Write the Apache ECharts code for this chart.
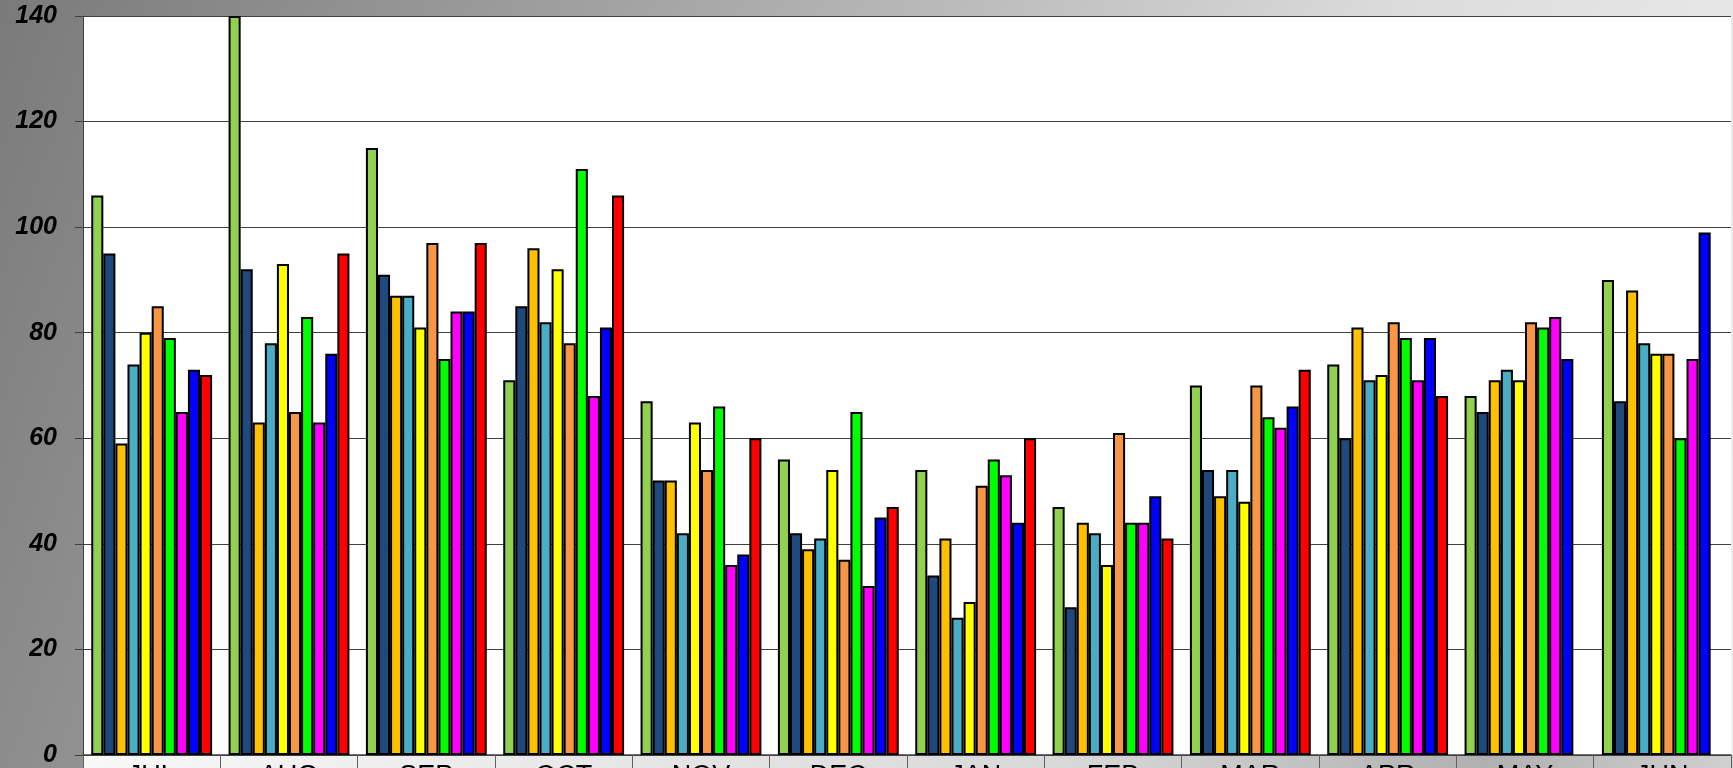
<!DOCTYPE html>
<html>
<head>
<meta charset="utf-8">
<script src="https://cdn.jsdelivr.net/npm/echarts@6/dist/echarts.min.js"></script>
<style>
  html, body { margin: 0; padding: 0; }
  #chart { width: 1733px; height: 768px; background: linear-gradient(110deg, #7a7a7a 0%, #a8a8a8 35%, #dcdcdc 70%, #f0f0f0 100%); }
</style>
</head>
<body>
<div id="chart"></div>
<script>
const months = ['JUL', 'AUG', 'SEP', 'OCT', 'NOV', 'DEC', 'JAN', 'FEB', 'MAR', 'APR', 'MAY', 'JUN'];
const yTicks = [0, 20, 40, 60, 80, 100, 120, 140];

// one array per series (colour), values by month
const s1 = [106, 140, 115, 71, 67, 56, 54, 47, 70, 74, 68, 90];
const s2 = [95, 92, 91, 85, 52, 42, 34, 28, 54, 60, 65, 67];
const s3 = [59, 63, 87, 96, 52, 39, 41, 44, 49, 81, 71, 88];
const s4 = [74, 78, 87, 82, 42, 41, 26, 42, 54, 71, 73, 78];
const s5 = [80, 93, 81, 92, 63, 54, 29, 36, 48, 72, 71, 76];
const s6 = [85, 65, 97, 78, 54, 37, 51, 61, 70, 82, 82, 76];
const s7 = [79, 83, 75, 111, 66, 65, 56, 44, 64, 79, 81, 60];
const s8 = [65, 63, 84, 68, 36, 32, 53, 44, 62, 71, 83, 75];
const s9 = [73, 76, 84, 81, 38, 45, 44, 49, 66, 79, 75, 99];
const s10 = [72, 95, 97, 106, 60, 47, 60, 41, 73, 68, null, null];

const seriesData = [s1, s2, s3, s4, s5, s6, s7, s8, s9, s10];
const colors = ['#92D050', '#1F497D', '#FFC000', '#4BACC6', '#FFFF00', '#F79646', '#00FF00', '#FF00FF', '#0000FF', '#FF0000'];

const chart = echarts.init(document.getElementById('chart'));

const option = {
  animation: false,
  graphic: [{
    type: 'rect',
    shape: { x: 83, y: 755, width: 1650, height: 13 },
    style: {
      fill: new echarts.graphic.LinearGradient(0, 0, 1, 0, [
        { offset: 0, color: '#f8f8f8' },
        { offset: 0.6, color: '#d8d8d8' },
        { offset: 0.85, color: '#b0b0b0' },
        { offset: 1, color: '#d0d0d0' }
      ])
    },
    z: -1
  }],
  grid: {
    left: 83, right: 2, top: 16, bottom: 13,
    outerBoundsMode: 'none', containLabel: false,
    show: true, backgroundColor: '#fff', borderWidth: 0
  },
  xAxis: {
    type: 'category',
    data: months,
    axisLine: { lineStyle: { color: '#404040', width: 1.5 } },
    axisTick: { show: true, length: 14, lineStyle: { color: '#606060' } },
    axisLabel: { color: '#000', fontFamily: 'Arial, Liberation Sans', fontSize: 27, margin: 8 }
  },
  yAxis: {
    type: 'value',
    min: 0,
    max: 140,
    interval: 20,
    axisLine: { show: true, lineStyle: { color: '#404040' } },
    axisTick: { show: true, length: 8, lineStyle: { color: '#404040' } },
    axisLabel: {
      color: '#000', fontFamily: 'Arial, Liberation Sans', fontSize: 25,
      fontWeight: 'bold', fontStyle: 'italic', margin: 26,
      formatter: v => yTicks.includes(v) ? String(v) : ''
    },
    splitLine: { lineStyle: { color: '#404040', width: 1 } }
  },
  series: seriesData.map((d, i) => ({
    type: 'bar',
    data: d,
    barGap: '0%',
    barCategoryGap: '12%',
    itemStyle: { color: colors[i], borderColor: '#000', borderWidth: 2 }
  }))
};

chart.setOption(option);
</script>
</body>
</html>
